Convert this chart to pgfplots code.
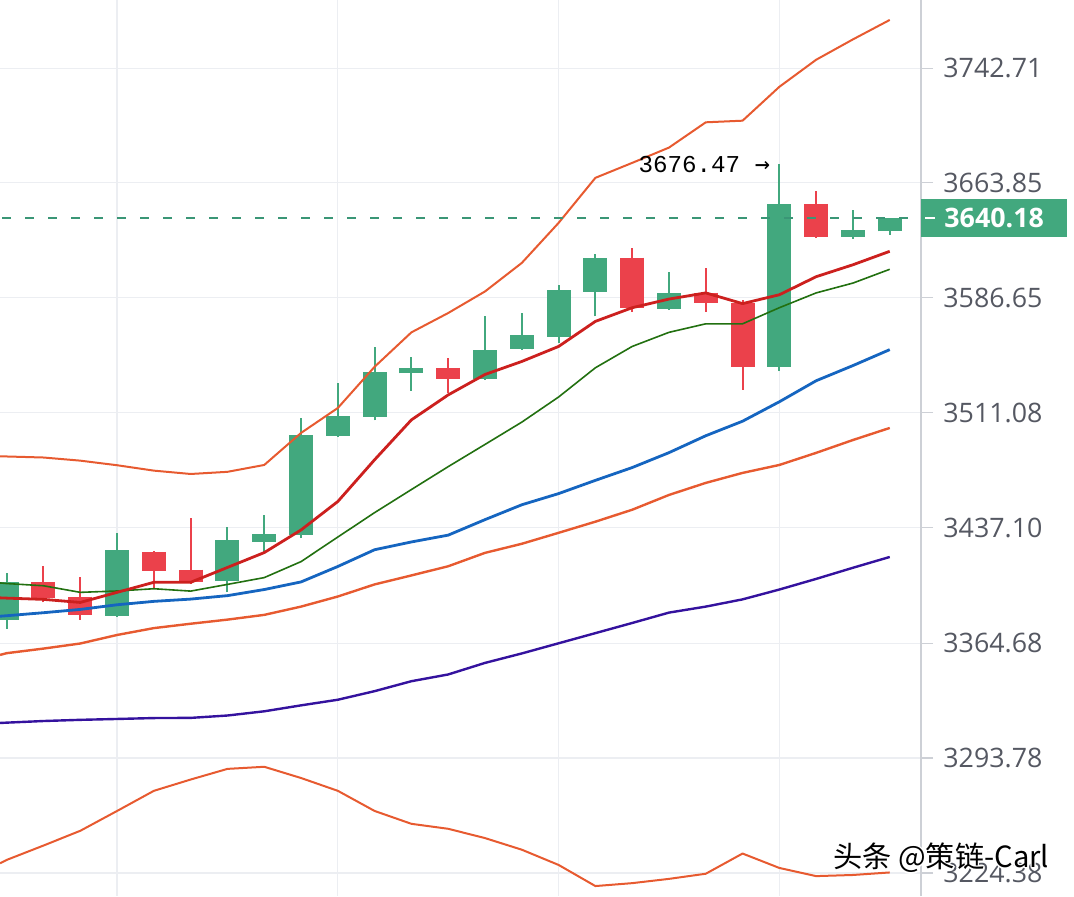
\documentclass[border=0pt]{standalone}
\usepackage{pgfplots}
\pgfplotsset{compat=1.18}
\usepackage{fontspec}
\setmainfont{Open Sans}
\newfontfamily\monofont{Liberation Mono}
\newfontfamily\dvmono{DejaVu Sans Mono}
\newfontfamily\cjk{Noto Sans CJK SC}

\definecolor{cg}{RGB}{66,168,126}
\definecolor{cr}{RGB}{235,65,75}
\definecolor{cband}{RGB}{231,90,48}
\definecolor{cma}{RGB}{204,32,30}
\definecolor{cgreen}{RGB}{34,112,16}
\definecolor{cblue}{RGB}{21,101,192}
\definecolor{cpurple}{RGB}{52,18,158}
\definecolor{cdash}{RGB}{58,150,118}
\definecolor{gridc}{RGB}{236,238,242}
\definecolor{axisc}{RGB}{205,208,214}
\definecolor{labelc}{RGB}{85,88,98}

% colour, index, open, high, low, close
\newcommand{\candle}[6]{%
  \addplot[#1, line width=1pt, forget plot] coordinates {(#2,#5) (#2,#4)};
  \addplot[#1, line width=12pt, line cap=butt, forget plot] coordinates {(#2,#3) (#2,#6)};
}

\begin{document}
\begin{tikzpicture}
\begin{axis}[
  at={(0,0)}, anchor=south west,
  scale only axis, width=460.5pt, height=448pt,
  xmin=-0.182, xmax=24.85,
  y coord trafo/.code={\pgfmathparse{ln(#1)*1000}},
  y coord inv trafo/.code={\pgfmathparse{exp(#1/1000)}},
  ymin=3210.68, ymax=3790.13,
  axis line style={draw=none},
  xtick=\empty,
  ytick={3224.38,3293.78,3364.68,3437.10,3511.08,3586.65,3663.85,3742.71},
  yticklabels={3224.38,3293.78,3364.68,3437.10,3511.08,3586.65,3663.85,3742.71},
  ymajorgrids,
  ytick pos=right, yticklabel pos=right,
  tick align=outside, major tick length=6pt,
  major y tick style={draw=axisc, line width=0.6pt},
  grid style={draw=gridc, line width=0.6pt},
  yticklabel style={anchor=west, inner sep=0pt, xshift=5pt,
    font=\fontsize{13.4}{16}\selectfont, text=labelc},
  clip mode=individual,
]
% vertical grid lines
\pgfplotsinvokeforeach{3,9,15,21}{
  \draw[gridc, line width=0.6pt] (axis cs:#1,3210.68) -- (axis cs:#1,3790.13);
}
% candles
\candle{cg}{0}{3379.2}{3408.8}{3373.5}{3403.1}
\candle{cr}{1}{3402.9}{3412.7}{3390.1}{3392.8}
\candle{cr}{2}{3393.8}{3406.1}{3379.2}{3382.3}
\candle{cg}{3}{3381.7}{3434.1}{3380.9}{3423.3}
\candle{cr}{4}{3421.8}{3422.6}{3398.7}{3409.6}
\candle{cr}{5}{3410.7}{3443.1}{3401.5}{3402.5}
\candle{cg}{6}{3403.3}{3437.9}{3396.4}{3429.5}
\candle{cg}{7}{3428.1}{3445.3}{3421.5}{3433.3}
\candle{cg}{8}{3432.7}{3507.7}{3430.6}{3496.9}
\candle{cg}{9}{3496.3}{3530.6}{3495.6}{3509.2}
\candle{cg}{10}{3508.3}{3554.0}{3506.1}{3537.8}
\candle{cg}{11}{3536.7}{3547.7}{3525.7}{3540.5}
\candle{cr}{12}{3540.5}{3547.0}{3524.0}{3533.4}
\candle{cg}{13}{3533.4}{3574.4}{3533.0}{3552.5}
\candle{cg}{14}{3552.9}{3576.6}{3552.5}{3561.7}
\candle{cg}{15}{3560.8}{3595.4}{3556.9}{3592.0}
\candle{cg}{16}{3590.9}{3616.0}{3574.4}{3613.3}
\candle{cr}{17}{3613.3}{3620.0}{3577.7}{3579.9}
\candle{cg}{18}{3579.2}{3604.3}{3578.5}{3590.2}
\candle{cr}{19}{3590.2}{3606.6}{3577.7}{3583.2}
\candle{cr}{20}{3583.2}{3585.3}{3526.2}{3540.9}
\candle{cg}{21}{3540.9}{3676.47}{3538.2}{3649.6}
\candle{cr}{22}{3649.6}{3658.0}{3626.7}{3627.8}
\candle{cg}{23}{3627.8}{3645.7}{3626.1}{3632.3}
\candle{cg}{24}{3631.2}{3640.5}{3628.9}{3640.18}

% upper band
\addplot[cband, line width=1pt, line join=round] coordinates {
(-0.18,3483.0) (0,3482.8) (1,3482.1) (2,3480.2) (3,3477.0) (4,3473.8) (5,3471.8)
(6,3473.1) (7,3477.6) (8,3498.2) (9,3514.4) (10,3541.3) (11,3563.7) (12,3576.8)
(13,3590.7) (14,3610.1) (15,3637.0) (16,3667.3) (17,3677.6) (18,3687.9) (19,3705.0)
(20,3706.4) (21,3729.7) (22,3748.3) (23,3762.3) (24,3776.3)};
% middle orange
\addplot[cband, line width=1.2pt, line join=round] coordinates {
(-0.18,3357.3) (0,3358.2) (1,3361.2) (2,3364.1) (3,3369.7) (4,3373.9) (5,3376.7)
(6,3379.2) (7,3382.3) (8,3387.5) (9,3393.8) (10,3401.2) (11,3406.9) (12,3412.7)
(13,3421.2) (14,3427.0) (15,3433.8) (16,3441.2) (17,3448.7) (18,3458.3) (19,3465.9)
(20,3472.3) (21,3477.6) (22,3485.2) (23,3493.3) (24,3501.2)};
% lower band
\addplot[cband, line width=1pt, line join=round] coordinates {
(-0.18,3230.2) (0,3232.2) (1,3240.7) (2,3249.7) (3,3261.8) (4,3273.9) (5,3280.5)
(6,3287.1) (7,3288.4) (8,3281.7) (9,3273.9) (10,3261.8) (11,3254.0) (12,3250.9)
(13,3245.5) (14,3238.3) (15,3229.2) (16,3216.5) (17,3218.3) (18,3220.8) (19,3223.8)
(20,3235.9) (21,3227.4) (22,3222.6) (23,3223.2) (24,3224.7)};
% purple
\addplot[cpurple, line width=1.2pt, line join=round] coordinates {
(-0.18,3315.2) (0,3315.4) (1,3316.4) (2,3317.2) (3,3317.8) (4,3318.0) (5,3318.3)
(6,3319.9) (7,3322.3) (8,3326.0) (9,3329.5) (10,3334.7) (11,3340.8) (12,3345.0)
(13,3352.2) (14,3358.3) (15,3364.5) (16,3370.8) (17,3377.1) (18,3383.4) (19,3387.5)
(20,3391.8) (21,3398.1) (22,3404.8) (23,3411.7) (24,3418.7)};
% blue
\addplot[cblue, line width=1.4pt, line join=round] coordinates {
(-0.18,3381.2) (0,3381.7) (1,3383.6) (2,3385.5) (3,3388.6) (4,3390.5) (5,3392.1)
(6,3394.3) (7,3398.1) (8,3403.1) (9,3412.5) (10,3423.3) (11,3428.3) (12,3432.7)
(13,3442.2) (14,3451.9) (15,3459.0) (16,3467.3) (17,3475.7) (18,3485.4) (19,3496.3)
(20,3505.9) (21,3518.3) (22,3532.1) (23,3542.0) (24,3552.5)};
% green
\addplot[cgreen, line width=0.8pt, line join=round] coordinates {
(-0.18,3402.3) (0,3401.8) (1,3400.6) (2,3396.2) (3,3397.1) (4,3398.7) (5,3397.4)
(6,3401.2) (7,3405.6) (8,3415.7) (9,3431.4) (10,3446.8) (11,3461.6) (12,3476.3)
(13,3490.5) (14,3505.3) (15,3521.6) (16,3540.6) (17,3554.5) (18,3563.7) (19,3569.6)
(20,3569.6) (21,3580.1) (22,3590.0) (23,3596.7) (24,3605.5)};
% red
\addplot[cma, line width=1.4pt, line join=round] coordinates {
(-0.18,3392.8) (0,3392.7) (1,3391.8) (2,3389.9) (3,3396.2) (4,3402.5) (5,3402.5)
(6,3411.9) (7,3421.4) (8,3435.8) (9,3453.8) (10,3480.8) (11,3506.6) (12,3522.9)
(13,3536.1) (14,3544.6) (15,3554.5) (16,3570.9) (17,3580.1) (18,3586.0) (19,3590.0)
(20,3582.7) (21,3588.7) (22,3600.8) (23,3608.8) (24,3617.5)};
% last price line
\addplot[cdash, line width=1pt, dash pattern=on 4.5pt off 7pt, dash phase=-1.2pt] coordinates {(-0.18,3640.18) (24.85,3640.18)};

\draw[axisc, line width=0.6pt] (rel axis cs:1,0) -- (rel axis cs:1,1);
\node[anchor=east, inner sep=0pt, font=\monofont\fontsize{12.1}{14}\selectfont, text=black]
  at (axis cs:21,3676.47) [xshift=-4.5pt] {3676.47 {\dvmono\fontsize{12.6}{14}\selectfont →}};
\coordinate (lastp) at (axis cs:24.85,3640.18);
\end{axis}
% price label
\fill[cg] ([yshift=-9.5pt]lastp) rectangle ++(73pt,19pt);
\draw[white, line width=0.8pt] ([xshift=2pt]lastp) -- ++(5pt,0);
\node[anchor=west, inner sep=0pt, text=white, font=\bfseries\fontsize{13.4}{16}\selectfont]
  at ([xshift=11.5pt]lastp) {3640.18};
% watermark
\foreach \dx/\dy in {0.7/0,-0.7/0,0/0.7,0/-0.7,0.5/0.5,-0.5/0.5,0.5/-0.5,-0.5/-0.5}{
  \node[anchor=west, inner sep=0pt, text=white, font=\cjk\fontsize{14.6}{16}\selectfont]
    at (416.5pt+\dx pt,19pt+\dy pt) {头条 @策链-Carl};
}
\node[anchor=west, inner sep=0pt, text=black, font=\cjk\fontsize{14.6}{16}\selectfont]
  at (416.5pt,19pt) {头条 @策链-Carl};
\pgfresetboundingbox
\path[use as bounding box] (0,0) rectangle (537pt,448pt);
\end{tikzpicture}
\end{document}
